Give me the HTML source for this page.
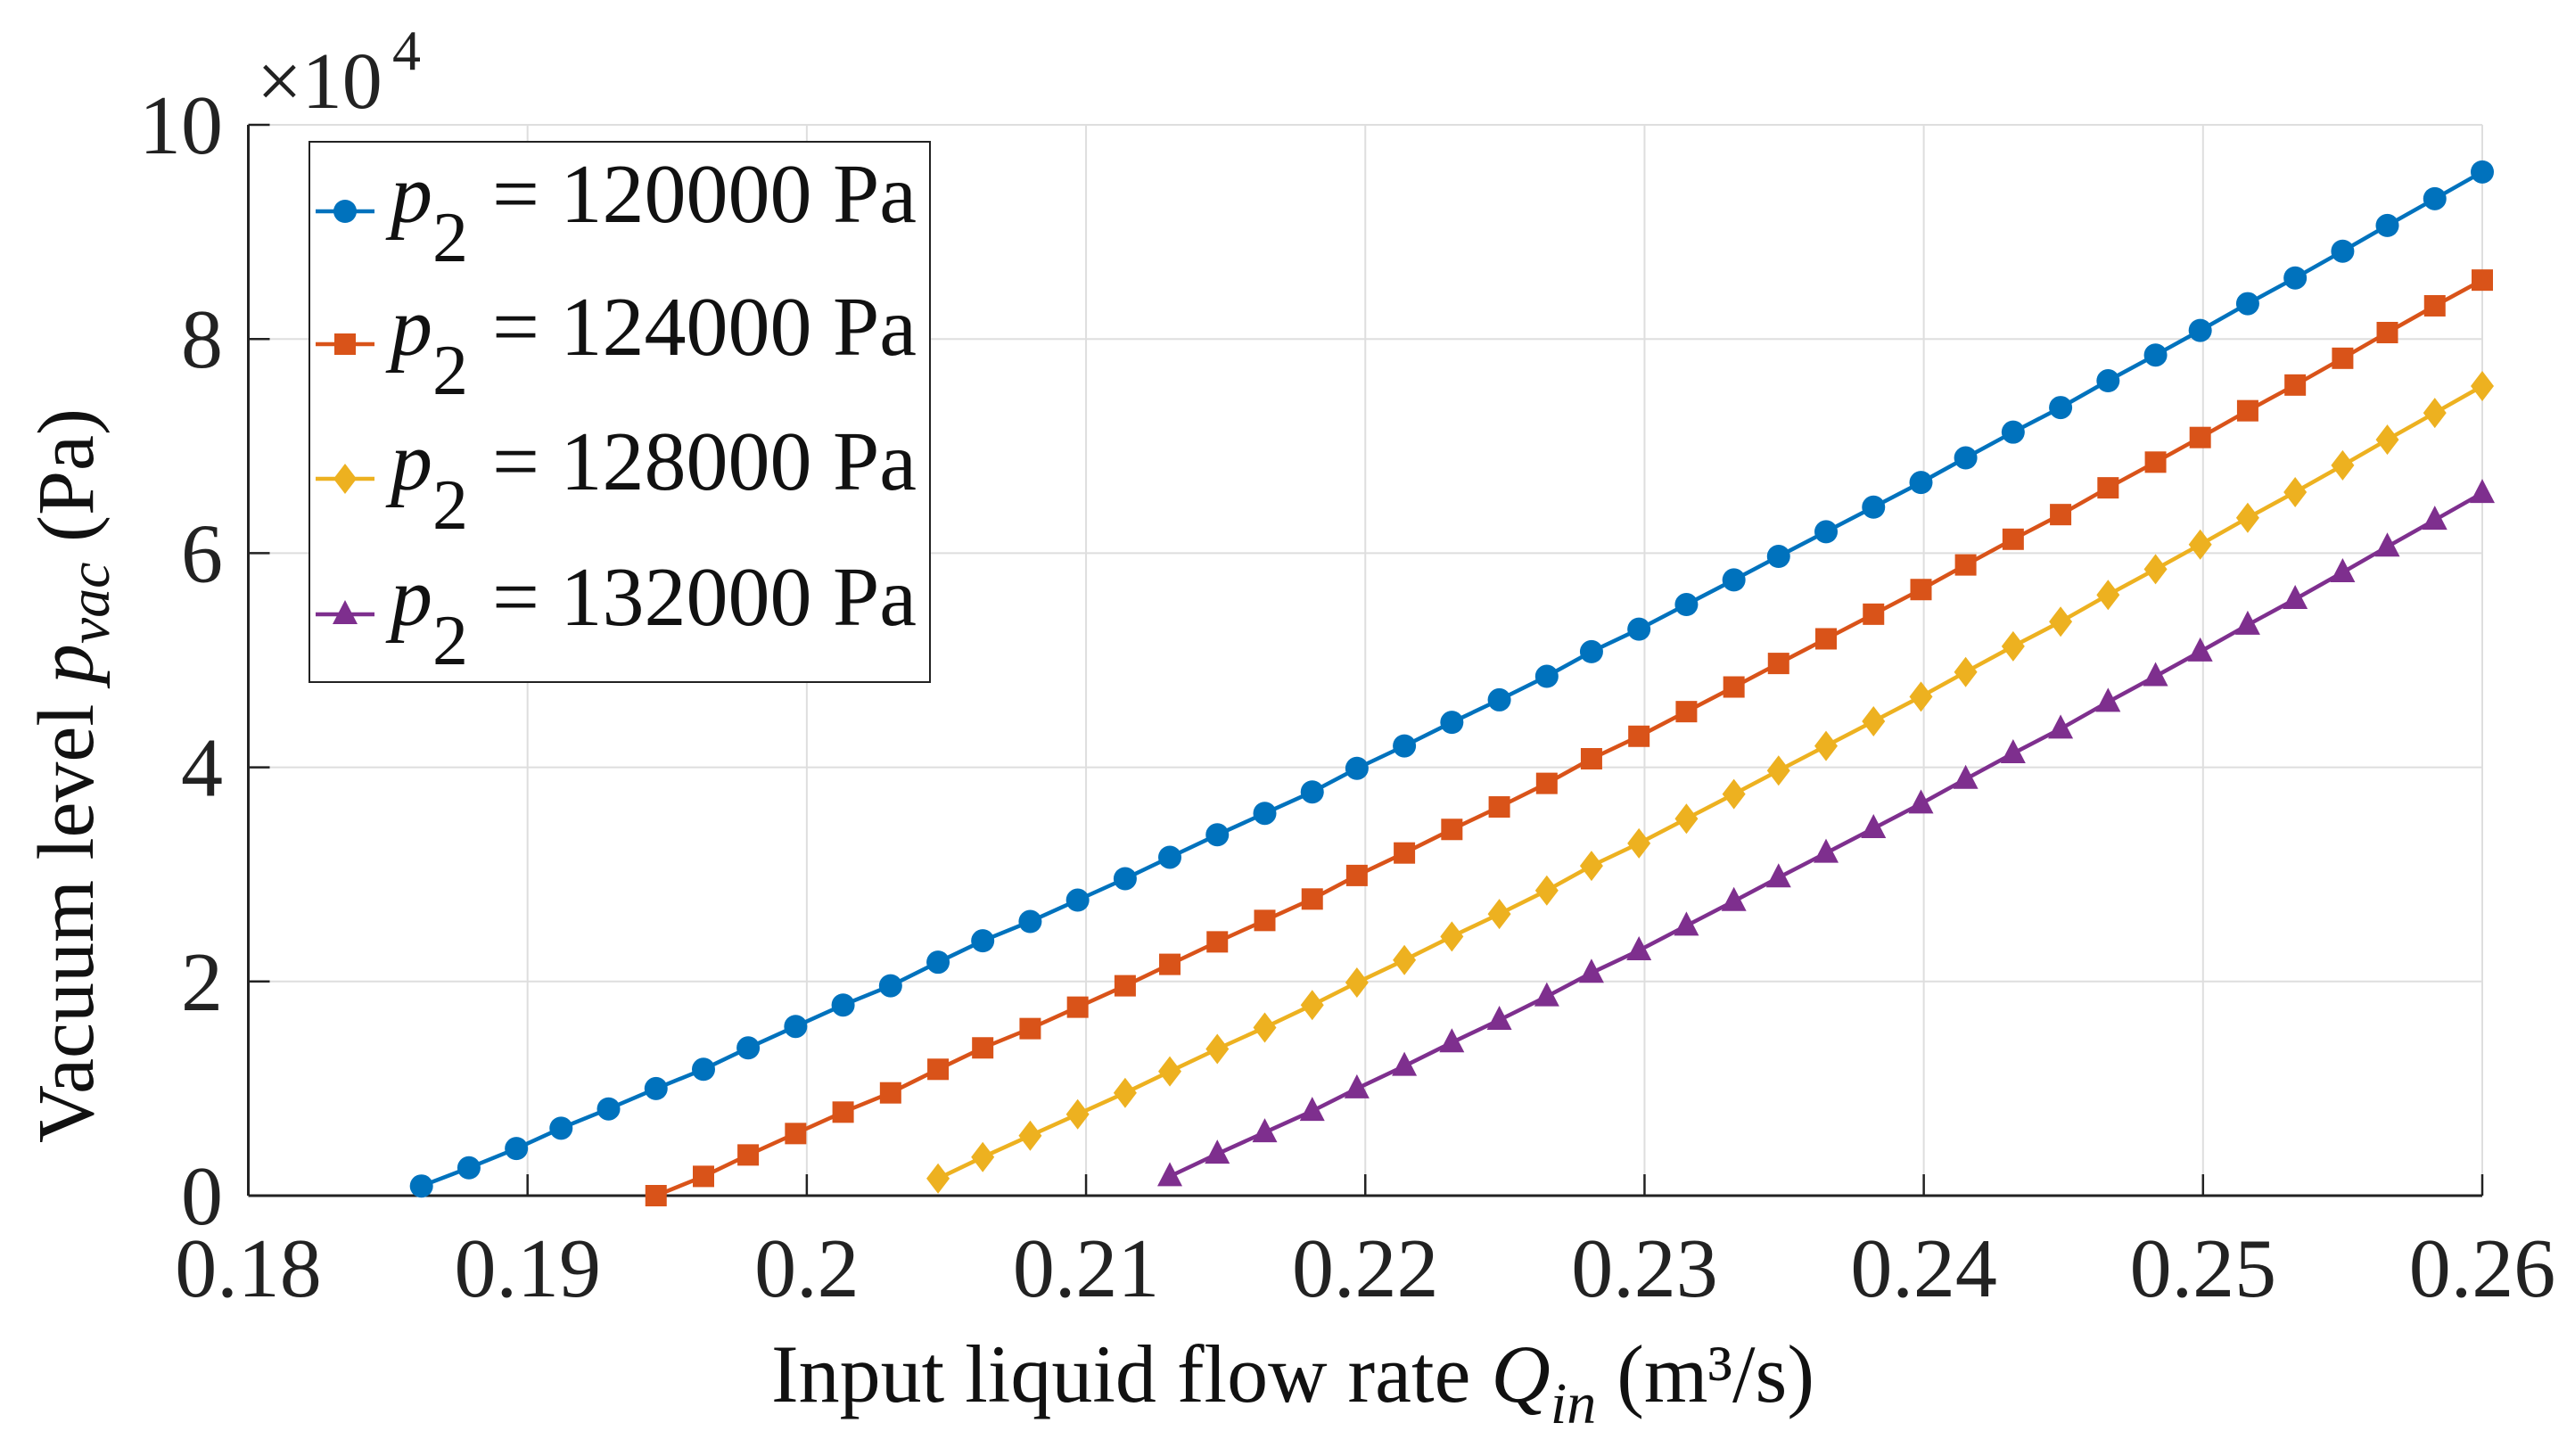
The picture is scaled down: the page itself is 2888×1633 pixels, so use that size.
<!DOCTYPE html>
<html><head><meta charset="utf-8"><style>
html,body{margin:0;padding:0;background:#fff;}
svg{display:block;font-family:"Liberation Serif",serif;}
</style></head><body>
<svg id="chart" width="2888" height="1633" viewBox="0 0 2888 1633" xmlns="http://www.w3.org/2000/svg" font-family="Liberation Serif, serif">
<rect width="2888" height="1633" fill="#fff"/>
<g id="grid"></g>
<g id="axes"></g>
<g id="series"></g>
<g id="ticks"></g>
<text x="288" y="121" font-size="90" fill="#222">×10</text>
<text x="440" y="78" font-size="64" fill="#222">4</text>
<text transform="translate(104,870) rotate(-90)" text-anchor="middle" font-size="90" fill="#111">Vacuum level <tspan font-style="italic">p</tspan><tspan font-style="italic" font-size="66" dy="18">vac</tspan><tspan dy="-18"> (Pa)</tspan></text>
<text x="1450" y="1572" text-anchor="middle" font-size="92" fill="#111">Input liquid flow rate <tspan font-style="italic">Q</tspan><tspan font-style="italic" font-size="66" dy="24">in</tspan><tspan dy="-24"> (m³/s)</tspan></text>
<g id="legend">
<rect x="347" y="159" width="696" height="606" fill="#fff" stroke="#222" stroke-width="2"/>
</g>
</svg>
<script>
const xTicks=[0.18,0.19,0.2,0.21,0.22,0.23,0.24,0.25,0.26];
const xTickLabels=["0.18","0.19","0.2","0.21","0.22","0.23","0.24","0.25","0.26"];
const yTicks=[0,2,4,6,8,10];
const yTickLabels=["0","2","4","6","8","10"];
const qGrid=[0.1862,0.1879,0.1896,0.1912,0.1929,0.1946,0.1963,0.1979,0.1996,0.2013,0.2030,0.2047,0.2063,0.2080,0.2097,0.2114,0.2130,0.2147,0.2164,0.2181,0.2197,0.2214,0.2231,0.2248,0.2265,0.2281,0.2298,0.2315,0.2332,0.2348,0.2365,0.2382,0.2399,0.2415,0.2432,0.2449,0.2466,0.2483,0.2499,0.2516,0.2533,0.2550,0.2566,0.2583,0.2600];
const seriesNames=["p2 = 120000 Pa","p2 = 124000 Pa","p2 = 128000 Pa","p2 = 132000 Pa"];
const seriesStart=[0,5,11,16];
const blueVals=[0.09,0.26,0.44,0.63,0.81,1.00,1.18,1.38,1.58,1.78,1.96,2.18,2.38,2.56,2.76,2.96,3.16,3.37,3.57,3.77,3.99,4.20,4.42,4.63,4.85,5.08,5.29,5.52,5.75,5.97,6.20,6.43,6.66,6.89,7.13,7.36,7.61,7.85,8.08,8.33,8.57,8.82,9.06,9.31,9.56];
const orangeVals=[0.00,0.18,0.38,0.58,0.78,0.96,1.18,1.38,1.56,1.76,1.96,2.16,2.37,2.57,2.77,2.99,3.20,3.42,3.63,3.85,4.08,4.29,4.52,4.75,4.97,5.20,5.43,5.66,5.89,6.13,6.36,6.61,6.85,7.08,7.33,7.57,7.82,8.06,8.31,8.55];
const yellowVals=[0.16,0.36,0.56,0.76,0.96,1.16,1.37,1.57,1.78,1.99,2.20,2.42,2.63,2.85,3.08,3.29,3.52,3.75,3.97,4.20,4.43,4.66,4.89,5.13,5.36,5.61,5.85,6.08,6.33,6.57,6.82,7.06,7.31,7.56];
const purpleVals=[0.18,0.39,0.59,0.79,1.00,1.21,1.43,1.64,1.86,2.08,2.29,2.52,2.75,2.97,3.20,3.43,3.66,3.89,4.13,4.36,4.61,4.85,5.08,5.33,5.57,5.82,6.06,6.31,6.56];

const NS="http://www.w3.org/2000/svg";
const L=278.5,R=2784,T=140,B=1341;
const xMin=0.18,xMax=0.26,yMin=0,yMax=10;
function X(q){return L+(q-xMin)/(xMax-xMin)*(R-L);}
function Y(v){return B-(v-yMin)/(yMax-yMin)*(B-T);}
function mk(tag,attrs,parent){const e=document.createElementNS(NS,tag);for(const k in attrs)e.setAttribute(k,attrs[k]);parent.appendChild(e);return e;}

const grid=document.getElementById('grid'),axes=document.getElementById('axes'),ticks=document.getElementById('ticks'),sg=document.getElementById('series'),lg=document.getElementById('legend');
xTicks.forEach((t,i)=>{
  const g=mk('line',{x1:X(t),x2:X(t),y1:T,y2:B,stroke:'#dedede','stroke-width':2},grid);
  
  
  const tk=mk('line',{x1:X(t),x2:X(t),y1:B,y2:B-24,stroke:'#222','stroke-width':2.5},axes);
  
  
  const lb=mk('text',{x:X(t),y:1454,'text-anchor':'middle','font-size':94,fill:'#222'},ticks);
  lb.textContent=xTickLabels[i];
  
  
});
yTicks.forEach((t,i)=>{
  const g=mk('line',{x1:L,x2:R,y1:Y(t),y2:Y(t),stroke:'#dedede','stroke-width':2},grid);
  
  
  const tk=mk('line',{x1:L,x2:L+24,y1:Y(t),y2:Y(t),stroke:'#222','stroke-width':2.5},axes);
  
  
  const lb=mk('text',{x:250,y:Y(t)+32,'text-anchor':'end','font-size':94,fill:'#222'},ticks);
  lb.textContent=yTickLabels[i];
  
  
});
const xa=mk('line',{x1:L,x2:R,y1:B,y2:B,stroke:'#222','stroke-width':3},axes);


const ya=mk('line',{x1:L,x2:L,y1:T,y2:B,stroke:'#222','stroke-width':3},axes);



const colors=['#0072BD','#D95319','#EDB120','#7E2F8E'];
const shapes=['circle','square','diamond','triangle'];
const allVals=[blueVals,orangeVals,yellowVals,purpleVals];
function marker(shape,x,y,c,parent){
  let e;
  if(shape==='circle')e=mk('circle',{cx:x,cy:y,r:13,fill:c},parent);
  else if(shape==='square')e=mk('rect',{x:x-12,y:y-12,width:24,height:24,fill:c},parent);
  else if(shape==='diamond')e=mk('polygon',{points:`${x},${y-17} ${x+13},${y} ${x},${y+17} ${x-13},${y}`,fill:c},parent);
  else e=mk('polygon',{points:`${x},${y-16} ${x+14},${y+11} ${x-14},${y+11}`,fill:c},parent);
  return e;
}
allVals.forEach((vals,s)=>{
  const xs=qGrid.slice(seriesStart[s],seriesStart[s]+vals.length);
  const pts=vals.map((v,i)=>X(xs[i]).toFixed(1)+','+Y(v).toFixed(1)).join(' ');
  const pl=mk('polyline',{points:pts,fill:'none',stroke:colors[s],'stroke-width':4.5},sg);
  
  
  vals.forEach((v,i)=>{
    const m=marker(shapes[s],X(xs[i]),Y(v),colors[s],sg);
    
    
  });
  const cy=[237,386,537,689][s];
  const ll=mk('line',{x1:354,x2:420,y1:cy,y2:cy,stroke:colors[s],'stroke-width':4.5},lg);
  
  
  const lm=marker(shapes[s],387,cy,colors[s],lg);
  
  
  const tx=mk('text',{x:438,y:cy+12,'font-size':94,fill:'#111'},lg);
  tx.innerHTML='<tspan font-style="italic">p</tspan><tspan font-size="80" dy="44">2</tspan><tspan dy="-44" x="552">= '+seriesNames[s].split('= ')[1]+'</tspan>';
  
  
});
</script>
</body></html>
